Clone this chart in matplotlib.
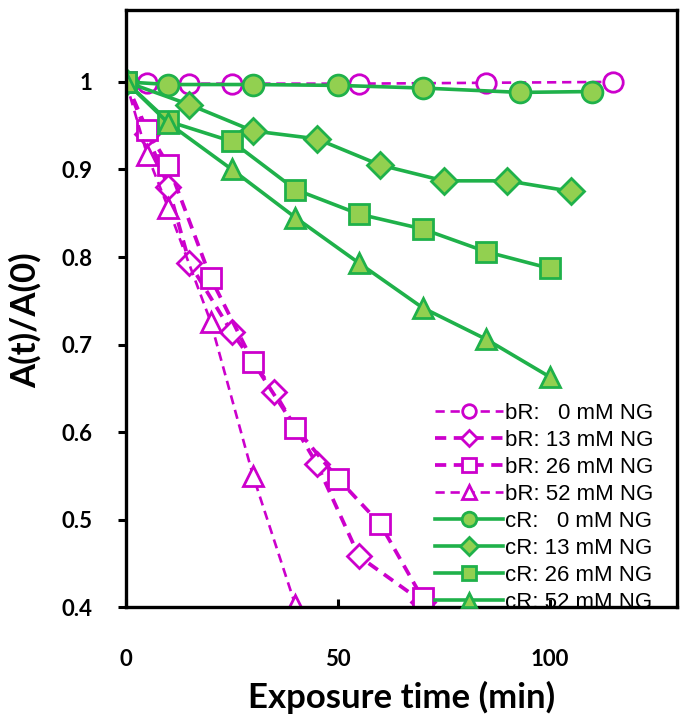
import matplotlib
matplotlib.use('Agg')
import matplotlib.pyplot as plt

# bR series (magenta, open markers, dashed)
br0_t = [0, 5, 15, 25, 55, 85, 115]
br0_a = [1.0, 0.999, 0.998, 0.998, 0.998, 0.999, 1.0]
br13_t = [0, 5, 10, 15, 25, 35, 45, 55, 70]
br13_a = [1.0, 0.94, 0.88, 0.793, 0.714, 0.646, 0.564, 0.458, 0.406]
br26_t = [0, 5, 10, 20, 30, 40, 50, 60, 70]
br26_a = [1.0, 0.945, 0.905, 0.776, 0.68, 0.605, 0.547, 0.495, 0.41]
br52_t = [0, 5, 10, 20, 30, 40]
br52_a = [1.0, 0.917, 0.856, 0.726, 0.55, 0.402]

# cR series (green, filled markers, solid)
cr0_t = [0, 10, 30, 50, 70, 93, 110]
cr0_a = [1.0, 0.997, 0.997, 0.996, 0.993, 0.988, 0.989]
cr13_t = [0, 15, 30, 45, 60, 75, 90, 105]
cr13_a = [1.0, 0.974, 0.944, 0.935, 0.905, 0.887, 0.887, 0.875]
cr26_t = [0, 10, 25, 40, 55, 70, 85, 100]
cr26_a = [1.0, 0.955, 0.932, 0.877, 0.849, 0.832, 0.806, 0.787]
cr52_t = [0, 10, 25, 40, 55, 70, 85, 100]
cr52_a = [1.0, 0.953, 0.9, 0.845, 0.793, 0.742, 0.706, 0.663]

labels_br = ['bR:   0 mM NG', 'bR: 13 mM NG', 'bR: 26 mM NG', 'bR: 52 mM NG']
labels_cr = ['cR:   0 mM NG', 'cR: 13 mM NG', 'cR: 26 mM NG', 'cR: 52 mM NG']

mag = '#CC00CC'
green = '#1FB14A'
lgreen = '#92D050'

fig = plt.figure(figsize=(6.88, 7.22), dpi=100)
ax = fig.add_axes([0.183, 0.159, 0.801, 0.827])

# magenta first, green on top
ax.plot(br0_t, br0_a, '--', color=mag, lw=1.9, marker='o', ms=14, mfc='white',
        mec=mag, mew=2, label=labels_br[0], dashes=(3.5, 2.2))
ax.plot(br13_t, br13_a, '--', color=mag, lw=2.7, marker='D', ms=12, mfc='white',
        mec=mag, mew=2, label=labels_br[1], dashes=(3, 2))
ax.plot(br26_t, br26_a, '--', color=mag, lw=2.7, marker='s', ms=14, mfc='white',
        mec=mag, mew=2, label=labels_br[2], dashes=(3, 2))
ax.plot(br52_t, br52_a, '--', color=mag, lw=1.9, marker='^', ms=14, mfc='white',
        mec=mag, mew=2, label=labels_br[3], dashes=(3.5, 2.2))

ax.plot(cr0_t, cr0_a, '-', color=green, lw=2.6, marker='o', ms=15, mfc=lgreen,
        mec=green, mew=2, label=labels_cr[0])
ax.plot(cr13_t, cr13_a, '-', color=green, lw=2.6, marker='D', ms=13, mfc=lgreen,
        mec=green, mew=2, label=labels_cr[1])
ax.plot(cr26_t, cr26_a, '-', color=green, lw=2.6, marker='s', ms=14, mfc=lgreen,
        mec=green, mew=2, label=labels_cr[2])
ax.plot(cr52_t, cr52_a, '-', color=green, lw=2.6, marker='^', ms=15, mfc=lgreen,
        mec=green, mew=2, label=labels_cr[3])

ax.set_xlim(0, 130)
ax.set_ylim(0.4, 1.082)
ax.set_xticks([0, 50, 100])
ax.set_yticks([0.4, 0.5, 0.6, 0.7, 0.8, 0.9, 1.0])
ax.set_yticklabels(['0.4', '0.5', '0.6', '0.7', '0.8', '0.9', '1'])

for s in ax.spines.values():
    s.set_linewidth(2.4)
    s.set_color('black')

ax.tick_params(axis='x', direction='in', length=6, width=2.2, pad=30)
ax.tick_params(axis='y', direction='out', length=6, width=2.2, pad=18)
for lab in ax.get_xticklabels() + ax.get_yticklabels():
    lab.set_fontfamily('Lato')
    lab.set_fontweight('bold')
    lab.set_fontsize(16)

ax.set_xlabel('Exposure time (min)', fontfamily='Lato', fontweight='bold',
              fontsize=25, labelpad=8)
ax.set_ylabel('A(t)/A(0)', fontfamily='Lato', fontweight='bold', fontsize=25)
ax.yaxis.set_label_coords(-0.152, 0.48)

leg = ax.legend(loc='lower right', bbox_to_anchor=(0.986, -0.035), frameon=False,
                prop={'family': 'Liberation Sans', 'size': 16},
                handlelength=3.05, handletextpad=0.1, labelspacing=0.27,
                markerscale=0.7, borderpad=0.2)

fig.savefig('out.png', dpi=100)
